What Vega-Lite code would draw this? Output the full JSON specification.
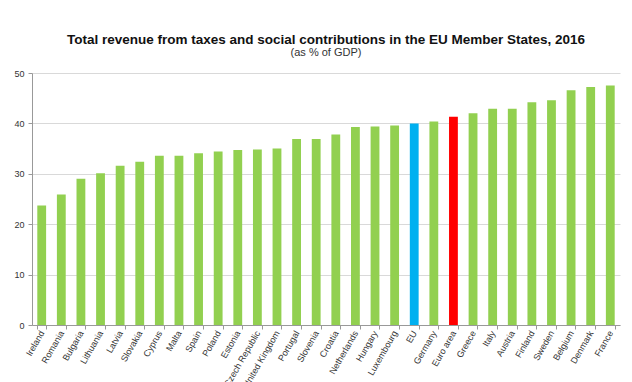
{
  "$schema": "https://vega.github.io/schema/vega-lite/v6.json",
  "autosize": "none",
  "width": 588,
  "height": 252,
  "padding": {"left": 32, "top": 73, "right": 12, "bottom": 57},
  "background": "white",
  "title": {
    "text": "Total revenue from taxes and social contributions in the EU Member States, 2016",
    "subtitle": "(as % of GDP)",
    "font": "Liberation Sans",
    "fontSize": 13.5,
    "fontWeight": "bold",
    "color": "#111111",
    "subtitleFont": "Liberation Sans",
    "subtitleFontSize": 11,
    "subtitleColor": "#333333",
    "subtitlePadding": 1,
    "anchor": "middle",
    "offset": 11
  },
  "data": {
    "values": [
      {"country": "Ireland", "value": 23.7, "type": "country"},
      {"country": "Romania", "value": 25.9, "type": "country"},
      {"country": "Bulgaria", "value": 29.0, "type": "country"},
      {"country": "Lithuania", "value": 30.1, "type": "country"},
      {"country": "Latvia", "value": 31.6, "type": "country"},
      {"country": "Slovakia", "value": 32.4, "type": "country"},
      {"country": "Cyprus", "value": 33.6, "type": "country"},
      {"country": "Malta", "value": 33.6, "type": "country"},
      {"country": "Spain", "value": 34.1, "type": "country"},
      {"country": "Poland", "value": 34.4, "type": "country"},
      {"country": "Estonia", "value": 34.7, "type": "country"},
      {"country": "Czech Republic", "value": 34.8, "type": "country"},
      {"country": "United Kingdom", "value": 35.0, "type": "country"},
      {"country": "Portugal", "value": 36.9, "type": "country"},
      {"country": "Slovenia", "value": 36.9, "type": "country"},
      {"country": "Croatia", "value": 37.8, "type": "country"},
      {"country": "Netherlands", "value": 39.3, "type": "country"},
      {"country": "Hungary", "value": 39.4, "type": "country"},
      {"country": "Luxembourg", "value": 39.6, "type": "country"},
      {"country": "EU", "value": 40.0, "type": "EU"},
      {"country": "Germany", "value": 40.4, "type": "country"},
      {"country": "Euro area", "value": 41.3, "type": "Euro area"},
      {"country": "Greece", "value": 42.0, "type": "country"},
      {"country": "Italy", "value": 42.9, "type": "country"},
      {"country": "Austria", "value": 42.9, "type": "country"},
      {"country": "Finland", "value": 44.2, "type": "country"},
      {"country": "Sweden", "value": 44.6, "type": "country"},
      {"country": "Belgium", "value": 46.6, "type": "country"},
      {"country": "Denmark", "value": 47.2, "type": "country"},
      {"country": "France", "value": 47.5, "type": "country"}
    ]
  },
  "mark": {"type": "bar"},
  "encoding": {
    "x": {
      "field": "country",
      "type": "nominal",
      "sort": null,
      "scale": {"paddingInner": 0.55, "paddingOuter": 0.27},
      "axis": {
        "title": null,
        "labelAngle": -60,
        "labelAlign": "right",
        "labelBaseline": "middle",
        "labelFont": "Liberation Sans",
        "labelFontSize": 9,
        "labelColor": "#333333",
        "labelPadding": 2,
        "domainColor": "#999999",
        "tickColor": "#999999",
        "tickBand": "extent",
        "tickSize": 4,
        "labelOverlap": false
      }
    },
    "y": {
      "field": "value",
      "type": "quantitative",
      "scale": {"domain": [0, 50], "nice": false},
      "axis": {
        "title": null,
        "values": [0, 10, 20, 30, 40, 50],
        "labelFont": "Liberation Sans",
        "labelFontSize": 9,
        "labelColor": "#333333",
        "domainColor": "#999999",
        "tickColor": "#999999",
        "tickSize": 4,
        "gridColor": "#d9d9d9",
        "labelPadding": 4
      }
    },
    "color": {
      "field": "type",
      "type": "nominal",
      "scale": {"domain": ["country", "EU", "Euro area"], "range": ["#92d050", "#00b0f0", "#ff0000"]},
      "legend": null
    }
  },
  "config": {"view": {"stroke": null}}
}
